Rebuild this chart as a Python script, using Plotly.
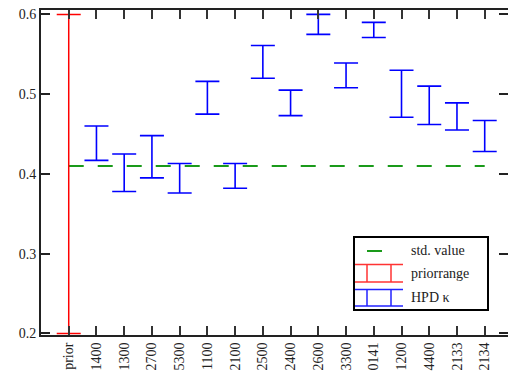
import plotly.graph_objects as go

categories = ["prior", "1400", "1300", "2700", "5300", "1100", "2100", "2500",
              "2400", "2600", "3300", "0141", "1200", "4400", "2133", "2134"]
hpd_low = [None, 0.417, 0.378, 0.395, 0.376, 0.475, 0.382, 0.520,
           0.473, 0.575, 0.508, 0.571, 0.471, 0.462, 0.455, 0.428]
hpd_high = [None, 0.460, 0.425, 0.448, 0.413, 0.516, 0.413, 0.561,
            0.505, 0.600, 0.539, 0.590, 0.530, 0.510, 0.489, 0.467]
prior_low = 0.2
prior_high = 0.6
std_value = 0.41
legend_labels = ["std. value", "priorrange", "HPD κ"]

font = "Liberation Serif, Times New Roman, serif"
W, H = 508, 376
ML, MR, MT, MB = 41, 0, 10, 41
PW, PH = W - ML - MR, H - MT - MB


def px(x):
    return (x - ML) / PW


def py(y):
    return (H - MB - y) / PH


hx = categories[1:]
hlo = hpd_low[1:]
hhi = hpd_high[1:]
hmid = [(a + b) / 2 for a, b in zip(hlo, hhi)]

fig = go.Figure()
fig.add_trace(go.Scatter(
    x=[categories[0], categories[-1]], y=[std_value, std_value],
    mode="lines", name=legend_labels[0], showlegend=False,
    line=dict(color="#1a9a1a", width=2, dash="15px,14px"),
))
pmid = (prior_low + prior_high) / 2
fig.add_trace(go.Scatter(
    x=[categories[0]], y=[pmid], mode="markers", name=legend_labels[1],
    showlegend=False,
    marker=dict(size=0.1, color="red", opacity=0),
    error_y=dict(type="data", symmetric=False, array=[prior_high - pmid],
                 arrayminus=[pmid - prior_low], color="#ff0000", thickness=1.5, width=12),
    cliponaxis=False,
))
fig.add_trace(go.Scatter(
    x=hx, y=hmid, mode="markers", name=legend_labels[2], showlegend=False,
    marker=dict(size=0.1, color="blue", opacity=0),
    error_y=dict(type="data", symmetric=False,
                 array=[h - m for h, m in zip(hhi, hmid)],
                 arrayminus=[m - l for m, l in zip(hmid, hlo)],
                 color="#0000ff", thickness=1.6, width=12),
))

# manual legend (gnuplot style key)
shapes = [dict(type="rect", xref="paper", yref="paper",
               x0=px(354), x1=px(488), y0=py(310), y1=py(237),
               line=dict(color="black", width=2), fillcolor="white", layer="above")]
shapes.append(dict(type="line", xref="paper", yref="paper",
                   x0=px(367), x1=px(382), y0=py(251), y1=py(251),
                   line=dict(color="#1a9a1a", width=2), layer="above"))
for color, ytop, ybot in [("#ff3333", 264.5, 282), ("#2222ff", 289.5, 306)]:
    for yy in (ytop, ybot):
        shapes.append(dict(type="line", xref="paper", yref="paper",
                           x0=px(355), x1=px(403), y0=py(yy), y1=py(yy),
                           line=dict(color=color, width=1.5), layer="above"))
    for xx in (367, 391):
        shapes.append(dict(type="line", xref="paper", yref="paper",
                           x0=px(xx), x1=px(xx), y0=py(ytop), y1=py(ybot),
                           line=dict(color=color, width=1.5), layer="above"))
annotations = []
for lab, yy in zip(legend_labels, [251, 273, 297]):
    annotations.append(dict(text=lab, xref="paper", yref="paper", x=px(409), y=py(yy),
                            xanchor="left", yanchor="middle", showarrow=False,
                            font=dict(family=font, size=14, color="#222")))

fig.update_layout(
    width=W, height=H,
    margin=dict(l=ML, r=MR, t=MT, b=MB, autoexpand=False),
    paper_bgcolor="white", plot_bgcolor="white",
    font=dict(family=font, size=13, color="#222"),
    showlegend=False,
    shapes=shapes, annotations=annotations,
    xaxis=dict(type="category", categoryorder="array", categoryarray=categories,
               range=[-1, 15.84], tickangle=-90, ticks="inside", ticklen=9,
               tickwidth=1.5, tickcolor="#333", showline=True, linecolor="#222",
               linewidth=2, mirror="ticks", showgrid=False, zeroline=False,
               automargin=False,
               tickfont=dict(family=font, size=14, color="#222")),
    yaxis=dict(range=[0.198, 0.6055], tickvals=[0.2, 0.3, 0.4, 0.5, 0.6],
               ticktext=["0.2", "0.3", "0.4", "0.5", "0.6"],
               ticks="inside", ticklen=9, tickwidth=2, tickcolor="#222",
               showline=True, linecolor="#222", linewidth=2, mirror="ticks",
               showgrid=False, zeroline=False, automargin=False,
               tickfont=dict(family=font, size=14, color="#222")),
)

fig.write_html(
    "out.html",
    config={"displayModeBar": False},
    post_script="document.body.style.margin='0';document.body.style.overflow='hidden';",
)
